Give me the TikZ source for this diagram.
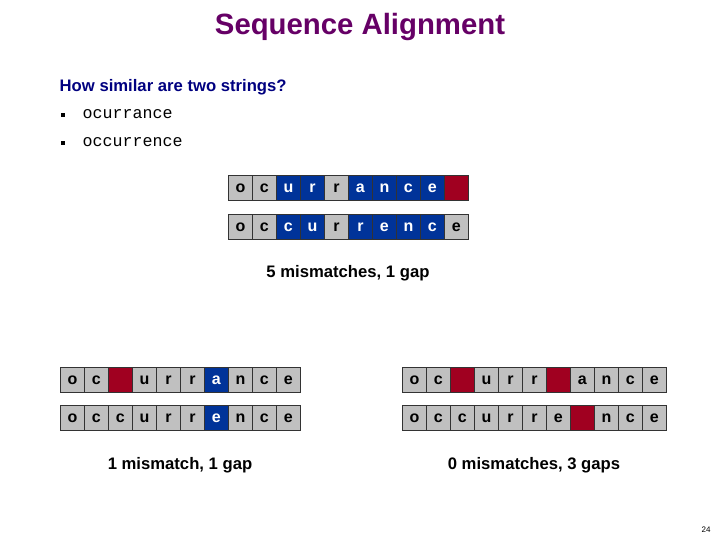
\documentclass[tikz,border=0pt]{standalone}
\usepackage{fontspec}
\setmainfont{Liberation Sans}
\setmonofont{Liberation Mono}
\definecolor{ttl}{RGB}{102,0,102}
\definecolor{hdr}{RGB}{0,0,128}
\definecolor{cg}{RGB}{192,192,192}
\definecolor{cb}{RGB}{0,51,153}
\definecolor{cr}{RGB}{160,0,32}
\tikzset{
 cell/.style={draw=black!80,line width=0.6pt,minimum width=24*0.75pt,minimum height=25*0.75pt,inner sep=0pt,font=\bfseries\fontsize{12}{12}\selectfont,anchor=north west},
 g/.style={cell,fill=cg,text=black},
 b/.style={cell,fill=cb,text=white},
 r/.style={cell,fill=cr},
 lbl/.style={font=\bfseries\fontsize{12.5}{14}\selectfont},
 bul/.style={fill=black,minimum size=3pt,inner sep=0pt}
}
\newcommand\cellrow[4]{% name, x, y, list
 \foreach \t/\s [count=\i from 0] in {#4}{
   \node[\s] (#1\i) at (#2+24*\i,#3) {\t};}}
\begin{document}
\begin{tikzpicture}[x=0.75pt,y=-0.75pt]
\useasboundingbox[fill=white] (0,0) rectangle (720,540);
\node[font=\bfseries\fontsize{22}{24}\selectfont,text=ttl] (title) at (360,27) {Sequence Alignment};
\node[anchor=west,font=\bfseries\fontsize{12.5}{14}\selectfont,text=hdr] (q) at (55,87) {How similar are two strings?};
\node[bul] (b1) at (63,115) {};
\node[anchor=west,font=\ttfamily\fontsize{12.5}{14}\selectfont] (s1) at (78,114) {ocurrance};
\node[bul] (b2) at (63,143) {};
\node[anchor=west,font=\ttfamily\fontsize{12.5}{14}\selectfont] (s2) at (78,142) {occurrence};
\cellrow{a}{228}{175}{o/g,c/g,u/b,r/b,r/g,a/b,n/b,c/b,e/b,{}/r}
\cellrow{b}{228}{214}{o/g,c/g,c/b,u/b,r/g,r/b,e/b,n/b,c/b,e/g}
\node[lbl] (l1) at (348,273) {5 mismatches, 1 gap};
\cellrow{c}{60}{367}{o/g,c/g,{}/r,u/g,r/g,r/g,a/b,n/g,c/g,e/g}
\cellrow{d}{60}{405}{o/g,c/g,c/g,u/g,r/g,r/g,e/b,n/g,c/g,e/g}
\node[lbl] (l2) at (180,465) {1 mismatch, 1 gap};
\cellrow{e}{402}{367}{o/g,c/g,{}/r,u/g,r/g,r/g,{}/r,a/g,n/g,c/g,e/g}
\cellrow{f}{402}{405}{o/g,c/g,c/g,u/g,r/g,r/g,e/g,{}/r,n/g,c/g,e/g}
\node[lbl] (l3) at (534,465) {0 mismatches, 3 gaps};
\node[font=\fontsize{6}{6}\selectfont] (pg) at (706,530) {24};
\end{tikzpicture}
\end{document}
